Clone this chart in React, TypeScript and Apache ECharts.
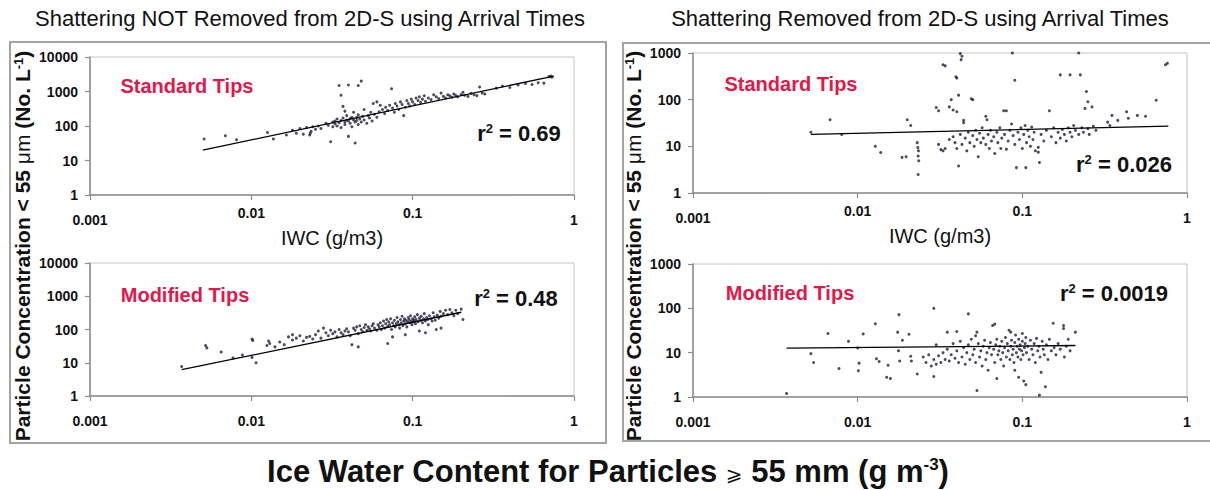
import React, { useEffect, useRef } from "react";
import * as echarts from "echarts";

const FONT = "'Liberation Sans', Arial, Helvetica, sans-serif";

const xTickValues = [0.001, 0.01, 0.1, 1];
const yMaxLeft = 10000;
const yMaxRight = 1000;

const panelTitles = [
  "Shattering NOT Removed from 2D-S using Arrival Times",
  "Shattering Removed from 2D-S using Arrival Times",
];
const tipLabels = ["Standard Tips", "Modified Tips", "Standard Tips", "Modified Tips"];
const r2Values = ["0.69", "0.48", "0.026", "0.0019"];
const xAxisTitle = "IWC (g/m3)";

// Top-left: standard tips, shattering NOT removed
const tlPoints = [
  [0.0051, 42], [0.0069, 52], [0.0081, 40], [0.0126, 65], [0.0137, 42], [0.0165, 55],
  [0.018, 75], [0.019, 62], [0.02, 85], [0.021, 58], [0.022, 90], [0.023, 55], [0.0232, 62],
  [0.0235, 70], [0.024, 95], [0.025, 80], [0.026, 100], [0.027, 85],
  [0.029, 120], [0.03, 105], [0.031, 35], [0.032, 130], [0.032, 95], [0.033, 140], [0.033, 115],
  [0.034, 100], [0.034, 160], [0.035, 125], [0.035, 1500], [0.036, 780], [0.036, 145], [0.036, 90],
  [0.037, 370], [0.037, 170], [0.038, 270], [0.038, 130], [0.038, 110], [0.039, 150], [0.039, 200],
  [0.04, 1550], [0.04, 50], [0.04, 140], [0.041, 165], [0.041, 120], [0.042, 180], [0.042, 95],
  [0.043, 150], [0.043, 250], [0.044, 32], [0.044, 130], [0.045, 175], [0.045, 145], [0.046, 1500],
  [0.046, 210], [0.046, 110], [0.047, 160], [0.048, 2000], [0.048, 130], [0.049, 190], [0.05, 300],
  [0.05, 150], [0.052, 120], [0.053, 200], [0.054, 170], [0.055, 250], [0.056, 140], [0.057, 450],
  [0.058, 220], [0.06, 500], [0.06, 180], [0.062, 260], [0.063, 400], [0.065, 300],
  [0.067, 230], [0.068, 350], [0.07, 280], [0.072, 400], [0.074, 1200], [0.075, 330], [0.077, 250],
  [0.078, 450], [0.08, 380], [0.082, 300], [0.084, 500], [0.086, 420], [0.088, 200], [0.09, 350],
  [0.092, 550], [0.094, 450], [0.096, 380], [0.098, 600], [0.1, 500], [0.103, 420], [0.105, 650],
  [0.108, 550], [0.11, 700], [0.112, 480], [0.115, 600], [0.118, 750], [0.12, 520],
  [0.125, 650], [0.13, 580], [0.135, 800], [0.14, 700], [0.145, 620], [0.15, 900], [0.155, 720],
  [0.16, 650], [0.165, 800], [0.17, 750], [0.175, 680], [0.18, 850], [0.185, 760], [0.19, 700],
  [0.2, 820], [0.205, 950], [0.21, 780], [0.22, 720], [0.23, 880], [0.24, 800], [0.25, 760],
  [0.26, 1350], [0.27, 900], [0.28, 850],
  [0.33, 1250], [0.36, 1450], [0.4, 1300], [0.45, 1550], [0.5, 1700], [0.55, 1600], [0.6, 1800],
  [0.65, 1750], [0.7, 2700], [0.72, 2800], [0.73, 2600],
];
const tlTrend = [[0.005, 20], [0.75, 2800]];

// Bottom-left: modified tips, shattering NOT removed
const blPoints = [
  [0.0037, 7.7], [0.0052, 33], [0.0053, 28], [0.0065, 21], [0.0077, 14], [0.0088, 17],
  [0.0101, 52], [0.0102, 47], [0.0101, 14.5], [0.0107, 10],
  [0.0125, 33], [0.0128, 45], [0.013, 38], [0.014, 30], [0.015, 42], [0.016, 35],
  [0.017, 60], [0.018, 70], [0.018, 48], [0.019, 55], [0.02, 65], [0.021, 45], [0.022, 58],
  [0.023, 62], [0.024, 52], [0.025, 70], [0.026, 90], [0.027, 55], [0.028, 110], [0.029, 80],
  [0.03, 65], [0.031, 95], [0.032, 75], [0.033, 85], [0.034, 60], [0.035, 100], [0.036, 80],
  [0.037, 70], [0.038, 90], [0.039, 105], [0.04, 85], [0.041, 65], [0.042, 35], [0.043, 110],
  [0.044, 95], [0.045, 120], [0.046, 30], [0.046, 75], [0.047, 130], [0.048, 100], [0.049, 85],
  [0.05, 115], [0.051, 140], [0.052, 95], [0.053, 120], [0.054, 105], [0.055, 90], [0.056, 130],
  [0.057, 150], [0.058, 110], [0.06, 95], [0.061, 140], [0.062, 120], [0.063, 160], [0.064, 100],
  [0.065, 130], [0.066, 180], [0.067, 110], [0.068, 150], [0.069, 200], [0.07, 38], [0.07, 125],
  [0.071, 170], [0.072, 140], [0.073, 210], [0.074, 100], [0.075, 160], [0.075, 60], [0.076, 130],
  [0.077, 190], [0.078, 120], [0.079, 150], [0.08, 230], [0.081, 170], [0.082, 140], [0.083, 110],
  [0.084, 200], [0.085, 160], [0.086, 250], [0.087, 130], [0.088, 180], [0.089, 210], [0.09, 150],
  [0.09, 70], [0.091, 190], [0.092, 120], [0.093, 170], [0.094, 230], [0.095, 200], [0.096, 160],
  [0.097, 260], [0.098, 180], [0.099, 140], [0.1, 210], [0.101, 170], [0.102, 190], [0.103, 240],
  [0.104, 150], [0.105, 200], [0.107, 280], [0.108, 170], [0.11, 220], [0.11, 90], [0.112, 190],
  [0.113, 250], [0.115, 160], [0.117, 210], [0.118, 300], [0.12, 180], [0.12, 80], [0.122, 230],
  [0.124, 200], [0.125, 140], [0.127, 260], [0.13, 210], [0.132, 180], [0.134, 320], [0.136, 240],
  [0.138, 190], [0.14, 100], [0.142, 270], [0.145, 220], [0.148, 350], [0.15, 250], [0.15, 110],
  [0.155, 300], [0.16, 380], [0.165, 280], [0.17, 400], [0.175, 320], [0.18, 260], [0.185, 380],
  [0.19, 300], [0.2, 410], [0.205, 200],
];
const blTrend = [[0.0037, 6.2], [0.2, 330]];

// Top-right: standard tips, shattering removed
const trPoints = [
  [0.0052, 20], [0.0068, 37], [0.008, 18], [0.0128, 10], [0.0138, 7.4], [0.0186, 5.8], [0.0197, 6],
  [0.02, 37], [0.021, 28], [0.023, 12], [0.0232, 9.4], [0.0234, 8], [0.0233, 6.2], [0.0235, 4.9],
  [0.0233, 2.5], [0.03, 68], [0.031, 58], [0.033, 560], [0.034, 530], [0.031, 11], [0.032, 8.5],
  [0.033, 8], [0.034, 9], [0.036, 70], [0.037, 100], [0.0395, 310], [0.04, 290], [0.038, 60],
  [0.04, 55], [0.042, 970], [0.043, 850], [0.0425, 720], [0.041, 125], [0.044, 36], [0.044, 32],
  [0.041, 3.8], [0.036, 14], [0.038, 16], [0.039, 12], [0.04, 9], [0.042, 18], [0.043, 11],
  [0.049, 105], [0.05, 100], [0.045, 15], [0.046, 8], [0.047, 20], [0.048, 12], [0.05, 17],
  [0.051, 10], [0.052, 22], [0.053, 14], [0.054, 6], [0.055, 19], [0.056, 12], [0.057, 25],
  [0.058, 15], [0.06, 44], [0.061, 37], [0.06, 11], [0.062, 18], [0.063, 9], [0.064, 22], [0.065, 13],
  [0.067, 16], [0.068, 7], [0.07, 20], [0.071, 12], [0.073, 25], [0.074, 9], [0.075, 15], [0.077, 58],
  [0.08, 58], [0.078, 18], [0.08, 8.7], [0.082, 13], [0.084, 22], [0.086, 30], [0.088, 17], [0.09, 11],
  [0.092, 3.5], [0.094, 20], [0.087, 1000], [0.09, 260], [0.096, 14], [0.098, 25], [0.1, 9], [0.102, 18],
  [0.104, 28], [0.105, 3.5], [0.106, 12], [0.108, 22], [0.11, 16], [0.112, 10], [0.114, 26], [0.116, 14],
  [0.118, 20], [0.12, 8], [0.125, 9.5], [0.125, 7.5], [0.127, 4.5], [0.13, 18], [0.135, 13], [0.14, 22],
  [0.146, 58], [0.15, 16], [0.155, 25], [0.16, 12], [0.165, 20], [0.17, 340], [0.17, 15], [0.175, 23],
  [0.18, 18], [0.185, 13], [0.19, 25], [0.195, 340], [0.195, 20], [0.2, 16], [0.205, 28], [0.21, 22],
  [0.22, 1000], [0.225, 340], [0.22, 18], [0.23, 25], [0.235, 20], [0.24, 65], [0.245, 150], [0.25, 90],
  [0.25, 24], [0.255, 18], [0.265, 70], [0.27, 27], [0.28, 22], [0.33, 33], [0.34, 28], [0.35, 46],
  [0.38, 36], [0.43, 55], [0.44, 40], [0.5, 46], [0.56, 44], [0.65, 97], [0.74, 560], [0.76, 600],
];
const trTrend = [[0.0052, 18], [0.77, 27]];

// Bottom-right: modified tips, shattering removed
const brPoints = [
  [0.0037, 1.2], [0.0052, 9.5], [0.0054, 6], [0.0066, 27], [0.0077, 4.4], [0.0088, 18], [0.01, 12.8],
  [0.0102, 5.8], [0.0101, 3.9], [0.0108, 26.5], [0.0128, 45], [0.013, 7.3], [0.0135, 6.3], [0.0153, 5.2],
  [0.015, 2.8], [0.0158, 2.6], [0.0178, 72], [0.0175, 29], [0.0177, 11], [0.0187, 19], [0.018, 6.5],
  [0.0205, 26], [0.021, 8.3], [0.0212, 6.5], [0.023, 3.3],
  [0.025, 8], [0.026, 6], [0.027, 9], [0.028, 5], [0.029, 100], [0.029, 2.9], [0.029, 7], [0.03, 15],
  [0.03, 5.5], [0.031, 8.5], [0.032, 6], [0.033, 10], [0.034, 7], [0.035, 29], [0.035, 12], [0.036, 6.5],
  [0.037, 9], [0.038, 16], [0.039, 7.5], [0.04, 30], [0.04, 11], [0.041, 6], [0.042, 18], [0.043, 8],
  [0.044, 13], [0.045, 5.5], [0.046, 10], [0.047, 75], [0.047, 15], [0.048, 7], [0.049, 20], [0.05, 9],
  [0.051, 12], [0.052, 24], [0.052, 6], [0.053, 29], [0.053, 1.4], [0.054, 16], [0.055, 8], [0.056, 11],
  [0.057, 5], [0.058, 14], [0.059, 19], [0.06, 7], [0.061, 10], [0.062, 4], [0.063, 13], [0.064, 17],
  [0.065, 9], [0.066, 41], [0.067, 12], [0.068, 44], [0.068, 6], [0.069, 15], [0.07, 2.6], [0.07, 20],
  [0.071, 9], [0.072, 11], [0.073, 14], [0.074, 7], [0.075, 18], [0.076, 10], [0.077, 5], [0.078, 13],
  [0.079, 22], [0.08, 8], [0.081, 16], [0.082, 11], [0.083, 32], [0.084, 7], [0.085, 29], [0.085, 14],
  [0.086, 19], [0.087, 9], [0.088, 12], [0.089, 6], [0.09, 4], [0.09, 17], [0.091, 25], [0.092, 10],
  [0.093, 14], [0.094, 8], [0.095, 2.8], [0.095, 20], [0.096, 12], [0.097, 15], [0.098, 7], [0.099, 11],
  [0.1, 27], [0.1, 18], [0.101, 9], [0.102, 2.3], [0.103, 13], [0.104, 16], [0.105, 1.9], [0.105, 22],
  [0.106, 10], [0.108, 14], [0.11, 7], [0.112, 19], [0.114, 12], [0.116, 9], [0.118, 16], [0.12, 6],
  [0.122, 21], [0.124, 11], [0.126, 14], [0.127, 1.1], [0.128, 8], [0.13, 3.6], [0.132, 18], [0.134, 12],
  [0.136, 9], [0.138, 1.7], [0.14, 15], [0.143, 7], [0.146, 20], [0.15, 11], [0.154, 46], [0.156, 13],
  [0.16, 9], [0.165, 16], [0.17, 12], [0.178, 41], [0.178, 35], [0.18, 8], [0.185, 14], [0.19, 20],
  [0.195, 11], [0.21, 29],
];
const brTrend = [[0.0037, 12.6], [0.21, 14.5]];

const panelPoints = [tlPoints, blPoints, trPoints, brPoints];
const panelTrends = [tlTrend, blTrend, trTrend, brTrend];
const panelYMax = [yMaxLeft, yMaxLeft, yMaxRight, yMaxRight];
const panelIsTop = [true, false, true, false];

// layout (pixels)
const grids = [
  { left: 90, top: 57, width: 484, height: 138 },
  { left: 90, top: 263, width: 484, height: 133 },
  { left: 693, top: 53, width: 494, height: 140 },
  { left: 693, top: 264, width: 494, height: 133 },
];
const tipPos = [[187, 86], [185, 295], [791, 84], [790, 293]];
const r2Pos = [[519, 133], [516, 298], [1124, 164], [1114, 293]];

const fmt = (v: number) => String(Number(v.toPrecision(4)));
const AXIS_COLOR = "#8c8c8c";
const RED = "#e3174a";

export default function App() {
  const ref = useRef<HTMLDivElement>(null);
  useEffect(() => {
    if (!ref.current) return;
    const chart = echarts.init(ref.current, null, { renderer: "svg" });

    const xAxis = grids.map((_, i) => ({
      type: "log",
      logBase: 10,
      gridIndex: i,
      min: xTickValues[0],
      max: xTickValues[xTickValues.length - 1],
      axisLine: { show: true, lineStyle: { color: AXIS_COLOR, width: 1.5 } },
      axisTick: { show: true, inside: false, length: 5, lineStyle: { color: AXIS_COLOR, width: 1.2 } },
      minorTick: { show: false },
      splitLine: { show: false },
      axisLabel: {
        margin: panelIsTop[i] ? 11 : 18,
        color: "#111",
        fontFamily: FONT,
        fontSize: 14,
        fontWeight: "bold",
        formatter: (v: number) => {
          const s = fmt(v);
          if (panelIsTop[i] && (s === "0.001" || s === "1")) return `{lo|${s}}`;
          return s;
        },
        rich: {
          lo: { padding: [7, 0, 0, 0], fontFamily: FONT, fontSize: 14, fontWeight: "bold", color: "#111" },
        },
      },
      name: panelIsTop[i] ? xAxisTitle : "",
      nameLocation: "middle",
      nameGap: 26,
      nameTextStyle: { fontFamily: FONT, fontSize: 20, color: "#111" },
    }));

    const yAxis = grids.map((_, i) => ({
      type: "log",
      logBase: 10,
      gridIndex: i,
      min: 1,
      max: panelYMax[i],
      axisLine: { show: true, lineStyle: { color: AXIS_COLOR, width: 1.5 } },
      axisTick: { show: true, inside: false, length: 5, lineStyle: { color: AXIS_COLOR, width: 1.2 } },
      minorTick: { show: false },
      splitLine: { show: false },
      axisLabel: {
        margin: 12,
        color: "#111",
        fontFamily: FONT,
        fontSize: 14,
        fontWeight: "bold",
        formatter: (v: number) => fmt(v),
      },
    }));

    const series: any[] = [];
    panelPoints.forEach((pts, i) => {
      series.push({
        type: "scatter",
        xAxisIndex: i,
        yAxisIndex: i,
        data: pts,
        symbol: "circle",
        symbolSize: 3,
        itemStyle: { color: "#1d1d3a" },
        z: 2,
      });
      series.push({
        type: "line",
        xAxisIndex: i,
        yAxisIndex: i,
        data: panelTrends[i],
        symbol: "none",
        lineStyle: { color: "#000", width: 1.3 },
        z: 3,
      });
    });

    const graphic: any[] = [
      {
        type: "rect",
        shape: { x: 10, y: 42, width: 596, height: 401 },
        style: { fill: "none", stroke: "#a3a3a3", lineWidth: 2 },
        silent: true,
      },
      {
        type: "rect",
        shape: { x: 623, y: 43, width: 600, height: 398 },
        style: { fill: "none", stroke: "#a3a3a3", lineWidth: 2 },
        silent: true,
      },
      {
        type: "text",
        x: 310,
        y: 18,
        style: { text: panelTitles[0], fontFamily: FONT, fontSize: 22, fill: "#111", align: "center", verticalAlign: "middle" },
      },
      {
        type: "text",
        x: 920,
        y: 18,
        style: { text: panelTitles[1], fontFamily: FONT, fontSize: 22, fill: "#111", align: "center", verticalAlign: "middle" },
      },
    ];

    const yLabelRich = {
      a: { fontFamily: FONT, fontSize: 21, fontWeight: "bold", fill: "#111", verticalAlign: "bottom" },
      m: { fontFamily: FONT, fontSize: 21, fontWeight: "normal", fill: "#111", verticalAlign: "bottom" },
      s: { fontFamily: FONT, fontSize: 13, fontWeight: "bold", fill: "#111", verticalAlign: "top" },
    };
    [22, 633].forEach((x) => {
      graphic.push({
        type: "text",
        x,
        y: 246,
        rotation: Math.PI / 2,
        style: {
          text: "{a|Particle Concentration < 55 }{m|\u03bcm}{a| (No. L}{s|-1}{a|)}",
          rich: yLabelRich,
          align: "center",
          verticalAlign: "middle",
        },
      });
    });

    tipLabels.forEach((t, i) => {
      graphic.push({
        type: "text",
        x: tipPos[i][0],
        y: tipPos[i][1],
        style: { text: t, fontFamily: FONT, fontSize: 20, fontWeight: "bold", fill: RED, align: "center", verticalAlign: "middle" },
      });
    });

    const r2Rich = {
      r: { fontFamily: FONT, fontSize: 22, fontWeight: "bold", fill: "#111", verticalAlign: "bottom" },
      s: { fontFamily: FONT, fontSize: 13, fontWeight: "bold", fill: "#111", verticalAlign: "top" },
    };
    r2Values.forEach((v, i) => {
      graphic.push({
        type: "text",
        x: r2Pos[i][0],
        y: r2Pos[i][1],
        style: { text: `{r|r}{s|2}{r| = ${v}}`, rich: r2Rich, align: "center", verticalAlign: "middle" },
      });
    });

    graphic.push({
      type: "text",
      x: 608,
      y: 471,
      style: {
        text: "{a|Ice Water Content for Particles }{g|\u2a7e}{a| 55 mm (g m}{s|-3}{a|)}",
        rich: {
          a: { fontFamily: FONT, fontSize: 31, fontWeight: "bold", fill: "#111", verticalAlign: "bottom" },
          g: { fontFamily: "'DejaVu Sans', sans-serif", fontSize: 20, fill: "#111", verticalAlign: "bottom", padding: [0, 0, 3, 0] },
          s: { fontFamily: FONT, fontSize: 17, fontWeight: "bold", fill: "#111", verticalAlign: "top" },
        },
        align: "center",
        verticalAlign: "middle",
      },
    });

    chart.setOption({
      animation: false,
      backgroundColor: "#ffffff",
      grid: grids.map((g) => ({ ...g, show: true, borderColor: "#c4c4c4", borderWidth: 1, backgroundColor: "#ffffff", containLabel: false })),
      xAxis,
      yAxis,
      series,
      graphic,
    });
    return () => chart.dispose();
  }, []);

  return (
    <div
      ref={ref}
      style={{ position: "absolute", left: 0, top: 0, width: 1210, height: 490, background: "#fff" }}
    />
  );
}
